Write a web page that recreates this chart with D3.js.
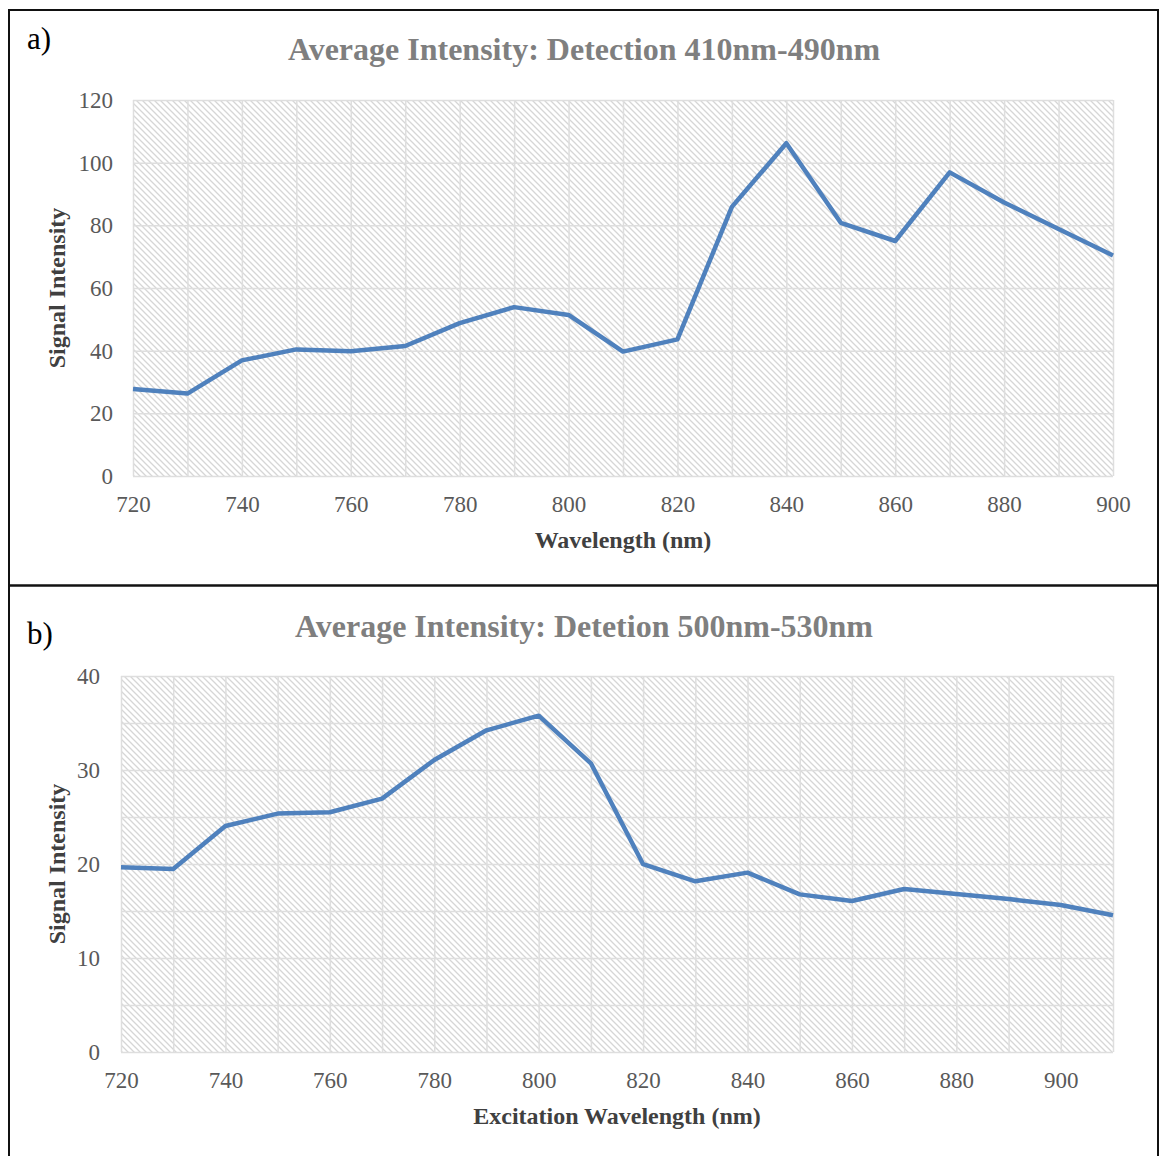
<!DOCTYPE html>
<html><head><meta charset="utf-8">
<script src="https://cdn.jsdelivr.net/npm/d3@7"></script>
<style>body{margin:0;background:#fff}svg{display:block}text{font-family:"Liberation Serif","Times New Roman",serif}</style>
</head><body>
<svg id="c" width="1160" height="1156"></svg>
<script>
const catsA = [720,730,740,750,760,770,780,790,800,810,820,830,840,850,860,870,880,890,900];
const valsA = [27.8,26.3,36.9,40.4,39.8,41.5,48.8,53.9,51.4,39.7,43.6,85.9,106.2,80.8,75.0,96.9,87.3,78.8,70.4];
const catsB = [720,730,740,750,760,770,780,790,800,810,820,830,840,850,860,870,880,890,900,910];
const valsB = [19.65,19.47,24.04,25.36,25.5,26.95,31.07,34.22,35.78,30.71,19.98,18.16,19.08,16.77,16.06,17.34,16.8,16.27,15.64,14.54];
const yTicksA = [0,20,40,60,80,100,120];
const yTicksB = [0,10,20,30,40];
const xLabelsA = [720,740,760,780,800,820,840,860,880,900];
const xLabelsB = [720,740,760,780,800,820,840,860,880,900];

const svg = d3.select("#c");
const defs = svg.append("defs");
const pat = defs.append("pattern").attr("id","hatch").attr("patternUnits","userSpaceOnUse")
  .attr("width",6).attr("height",6);
pat.append("rect").attr("width",6).attr("height",6).attr("fill","#fff");
pat.append("path").attr("d","M-1,-1L7,7M-1,5L1,7M5,-1L7,1").attr("stroke","#d6d6d6").attr("stroke-width",1.3);

// frame
svg.append("rect").attr("x",9).attr("y",10).attr("width",1149).attr("height",1160)
  .attr("fill","none").attr("stroke","#111").attr("stroke-width",2);
svg.append("line").attr("x1",9).attr("x2",1159).attr("y1",585.5).attr("y2",585.5)
  .attr("stroke","#111").attr("stroke-width",2.5);

function chart(o){
  const g = svg.append("g");
  const x = d3.scaleLinear().domain([o.cats[0], o.cats[o.cats.length-1]]).range([o.x0,o.x1]);
  const y = d3.scaleLinear().domain([0,o.ymax]).range([o.y1,o.y0]);
  g.append("rect").attr("x",o.x0).attr("y",o.y0).attr("width",o.x1-o.x0).attr("height",o.y1-o.y0).attr("fill","url(#hatch)");
  // grid
  g.append("g").attr("transform",`translate(0,${o.y1})`)
    .call(d3.axisBottom(x).tickValues(o.cats).tickSize(-(o.y1-o.y0)).tickFormat(""))
    .call(s=>{s.select(".domain").remove(); s.selectAll("line").attr("stroke","#dedede").attr("stroke-width",1.5);});
  g.append("g").attr("transform",`translate(${o.x0},0)`)
    .call(d3.axisLeft(y).tickValues(o.grid).tickSize(-(o.x1-o.x0)).tickFormat(""))
    .call(s=>{s.select(".domain").remove(); s.selectAll("line").attr("stroke","#dedede").attr("stroke-width",1.5);});
  // axis labels
  g.append("g").attr("transform",`translate(${o.x0},0)`)
    .call(d3.axisLeft(y).tickValues(o.yticks).tickSize(0).tickPadding(o.ypad))
    .call(s=>{s.select(".domain").remove(); s.selectAll("text").attr("font-size",23).attr("fill","#595959").attr("font-family","Liberation Serif");});
  g.append("g").attr("transform",`translate(0,${o.y1})`)
    .call(d3.axisBottom(x).tickValues(o.xlabels).tickSize(0).tickPadding(20))
    .call(s=>{s.select(".domain").remove(); s.selectAll("text").attr("font-size",23).attr("fill","#595959").attr("font-family","Liberation Serif");});
  // line
  const line = d3.line().x((d,i)=>x(o.cats[i])).y(d=>y(d));
  g.append("path").datum(o.vals).attr("d",line).attr("fill","none")
    .attr("stroke","#4f81bd").attr("stroke-width",4.5).attr("stroke-linejoin","round");
  // titles
  g.append("text").attr("x",584).attr("y",o.titleY).attr("text-anchor","middle")
    .attr("font-size",32).attr("font-weight","bold").attr("fill","#7f7f7f").text(o.title);
  g.append("text").attr("x",(o.x0+o.x1)/2).attr("y",o.xtY).attr("text-anchor","middle")
    .attr("font-size",24).attr("font-weight","bold").attr("fill","#404040").text(o.xtitle);
  g.append("text").attr("transform",`translate(65,${(o.y0+o.y1)/2}) rotate(-90)`).attr("text-anchor","middle")
    .attr("font-size",24).attr("font-weight","bold").attr("fill","#404040").text("Signal Intensity");
  g.append("text").attr("x",27).attr("y",o.labY).attr("font-size",31).attr("fill","#000").text(o.lab);
}

chart({cats:catsA, vals:valsA, x0:133, x1:1113, y0:100, y1:476, ymax:120, grid:yTicksA, yticks:yTicksA,
  xlabels:xLabelsA, ypad:20, title:"Average Intensity: Detection 410nm-490nm", titleY:60, xtitle:"Wavelength (nm)", xtY:548, lab:"a)", labY:49});
chart({cats:catsB, vals:valsB, x0:121, x1:1113, y0:676, y1:1052, ymax:40, grid:[0,5,10,15,20,25,30,35,40], yticks:yTicksB,
  xlabels:xLabelsB, ypad:21, title:"Average Intensity: Detetion 500nm-530nm", titleY:637, xtitle:"Excitation Wavelength (nm)", xtY:1124, lab:"b)", labY:644});
</script>
</body></html>
